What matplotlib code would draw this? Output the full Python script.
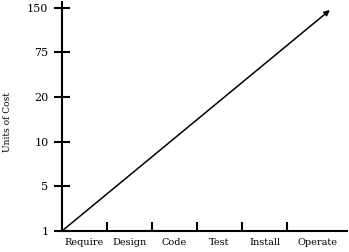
import numpy as np
import matplotlib.pyplot as plt

# cost levels on the y axis (evenly spaced categories)
cost_labels = ["1", "5", "10", "20", "75", "150"]
# project phases on the x axis
phases = ["Require", "Design", "Code", "Test", "Install", "Operate"]
# start and end of the rising cost line, in phase / cost-level units
line_x = [0.0, 5.95]
line_y = [0.0, 4.95]

plt.rcParams['font.family'] = ['DejaVu Serif']

fig = plt.figure(figsize=(3.49, 2.52), dpi=100)
ax = fig.add_axes([62 / 349, 21 / 252, 285 / 349, 229 / 252])

ax.set_xlim(0, 6.33)
ax.set_ylim(0, 5.13)

# the line with an arrow head at its end
ax.annotate("", xy=(line_x[1], line_y[1]), xytext=(line_x[0], line_y[0]),
            arrowprops=dict(arrowstyle="-|>", color="black", lw=1.1,
                            mutation_scale=8, shrinkA=0, shrinkB=0))

for side in ["top", "right"]:
    ax.spines[side].set_visible(False)
for side in ["left", "bottom"]:
    ax.spines[side].set_linewidth(1.5)

# y ticks: cross the axis
ax.set_yticks(np.arange(len(cost_labels)))
ax.set_yticklabels(cost_labels)
ax.tick_params(axis="y", direction="inout", length=11.5, width=1.5,
               labelsize=8, pad=4)

# x ticks: boundaries between phases, labels centered between them
bounds = np.arange(1, len(phases))
ax.set_xticks(bounds)
ax.set_xticklabels([])
ax.tick_params(axis="x", which="major", direction="in", length=6.5, width=1.5)
centers = list(np.arange(len(phases) - 1) + 0.5) + [(5 + 6.33) / 2]
ax.set_xticks(centers, minor=True)
ax.set_xticklabels(phases, minor=True)
ax.tick_params(axis="x", which="minor", length=0, labelsize=7, pad=5)

fig.text(8 / 349, 1 - 122 / 252, "Units of Cost", rotation=90,
         ha="center", va="center", fontsize=6.5)

fig.savefig("out.png", dpi=100)
